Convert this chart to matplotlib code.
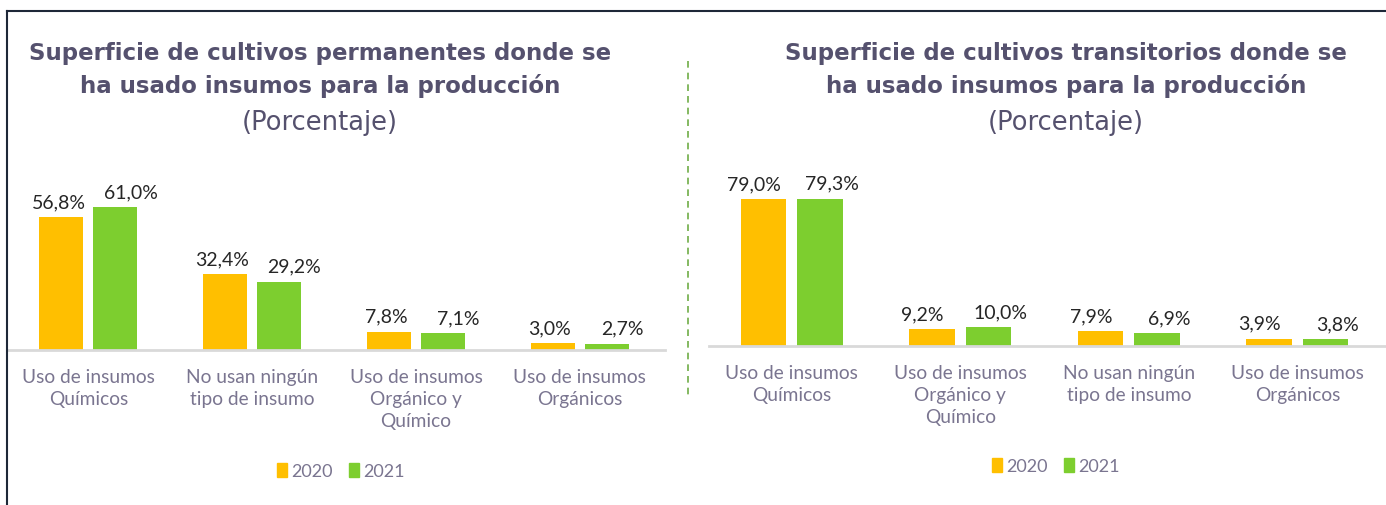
import matplotlib.pyplot as plt
from matplotlib.patches import Patch
from matplotlib.lines import Line2D

# datos
cats_perm = ['Uso de insumos\nQuímicos', 'No usan ningún\ntipo de insumo',
             'Uso de insumos\nOrgánico y\nQuímico', 'Uso de insumos\nOrgánicos']
perm_2020 = [56.8, 32.4, 7.8, 3.0]
perm_2021 = [61.0, 29.2, 7.1, 2.7]

cats_trans = ['Uso de insumos\nQuímicos', 'Uso de insumos\nOrgánico y\nQuímico',
              'No usan ningún\ntipo de insumo', 'Uso de insumos\nOrgánicos']
trans_2020 = [79.0, 9.2, 7.9, 3.9]
trans_2021 = [79.3, 10.0, 6.9, 3.8]

years = ['2020', '2021']
col_2020 = '#FFBF00'
col_2021 = '#7DCE2F'
title_col = '#55516e'
label_col = '#7a7590'

plt.rcParams['font.family'] = ['Lato', 'DejaVu Sans']

W, H = 1386, 506
fig = plt.figure(figsize=(W / 100, H / 100), dpi=100)


def px_axes(x0, x1, y_base, height):
    # pixel coords measured from the top-left corner
    return fig.add_axes([x0 / W, (H - y_base) / H, (x1 - x0) / W, height / H])


def fmt(v):
    return f'{v:.1f}%'.replace('.', ',')


def draw(ax, cats, v20, v21, xlim, ylim, width, off, shifts):
    x = range(len(cats))
    b1 = ax.bar([i - off for i in x], v20, width, color=col_2020)
    b2 = ax.bar([i + off for i in x], v21, width, color=col_2021)
    for bars, vals, dx in ((b1, v20, shifts[0]), (b2, v21, shifts[1])):
        for b, v in zip(bars, vals):
            ax.annotate(fmt(v), (b.get_x() + b.get_width() / 2, v),
                        xytext=(dx, 5), textcoords='offset points',
                        ha='center', va='bottom', fontsize=14, color='#262626')
    ax.set_xlim(*xlim)
    ax.set_ylim(*ylim)
    ax.set_xticks(list(x))
    ax.set_xticklabels(cats, fontsize=13.8, color=label_col, linespacing=1.35)
    ax.tick_params(axis='x', length=0, pad=13)
    ax.set_yticks([])
    for s in ['top', 'right', 'left']:
        ax.spines[s].set_visible(False)
    ax.spines['bottom'].set_color('#d9d9d9')
    ax.spines['bottom'].set_linewidth(2)
    ax.patch.set_alpha(0)


ax1 = px_axes(8, 665, 351, 164)
draw(ax1, cats_perm, perm_2020, perm_2021, (-0.49, 3.52), (0, 70), 0.27, 0.165,
     (-2, 11))

ax2 = px_axes(709, 1385, 347, 158)
draw(ax2, cats_trans, trans_2020, trans_2021, (-0.49, 3.52), (0, 85), 0.27, 0.167,
     (-7, 9))

# titulos
for cx, name in ((320, 'permanentes'), (1066, 'transitorios')):
    fig.text(cx / W, 1 - 70 / H,
             f'Superficie de cultivos {name} donde se\nha usado insumos para la producción',
             ha='center', va='center', fontsize=16.5, fontweight='bold',
             family='DejaVu Sans', color=title_col, linespacing=1.45)
    fig.text(cx / W, 1 - 123 / H, '(Porcentaje)', ha='center', va='center',
             fontsize=18.5, family='DejaVu Sans', color=title_col)

# leyendas
handles = [Patch(color=col_2020), Patch(color=col_2021)]
for cx, cy in ((341, 472), (1056, 467)):
    leg = fig.legend(handles, years, loc='center', ncol=2, frameon=False,
                     bbox_to_anchor=(cx / W, 1 - cy / H), fontsize=13,
                     handlelength=0.55, handleheight=0.8, handletextpad=0.25,
                     columnspacing=0.9)
    for t in leg.get_texts():
        t.set_color(label_col)

# marco y divisor
fig.add_artist(Line2D([7 / W, 1], [1 - 12 / H] * 2, color='#1e2838', lw=1.5))
fig.add_artist(Line2D([7 / W] * 2, [0, 1 - 12 / H], color='#1e2838', lw=1.5))
fig.add_artist(Line2D([688 / W] * 2, [1 - 62 / H, 1 - 400 / H], color='#70ad47',
                      lw=1.2, ls=(0, (4, 3))))

fig.savefig('out.png', dpi=100)
